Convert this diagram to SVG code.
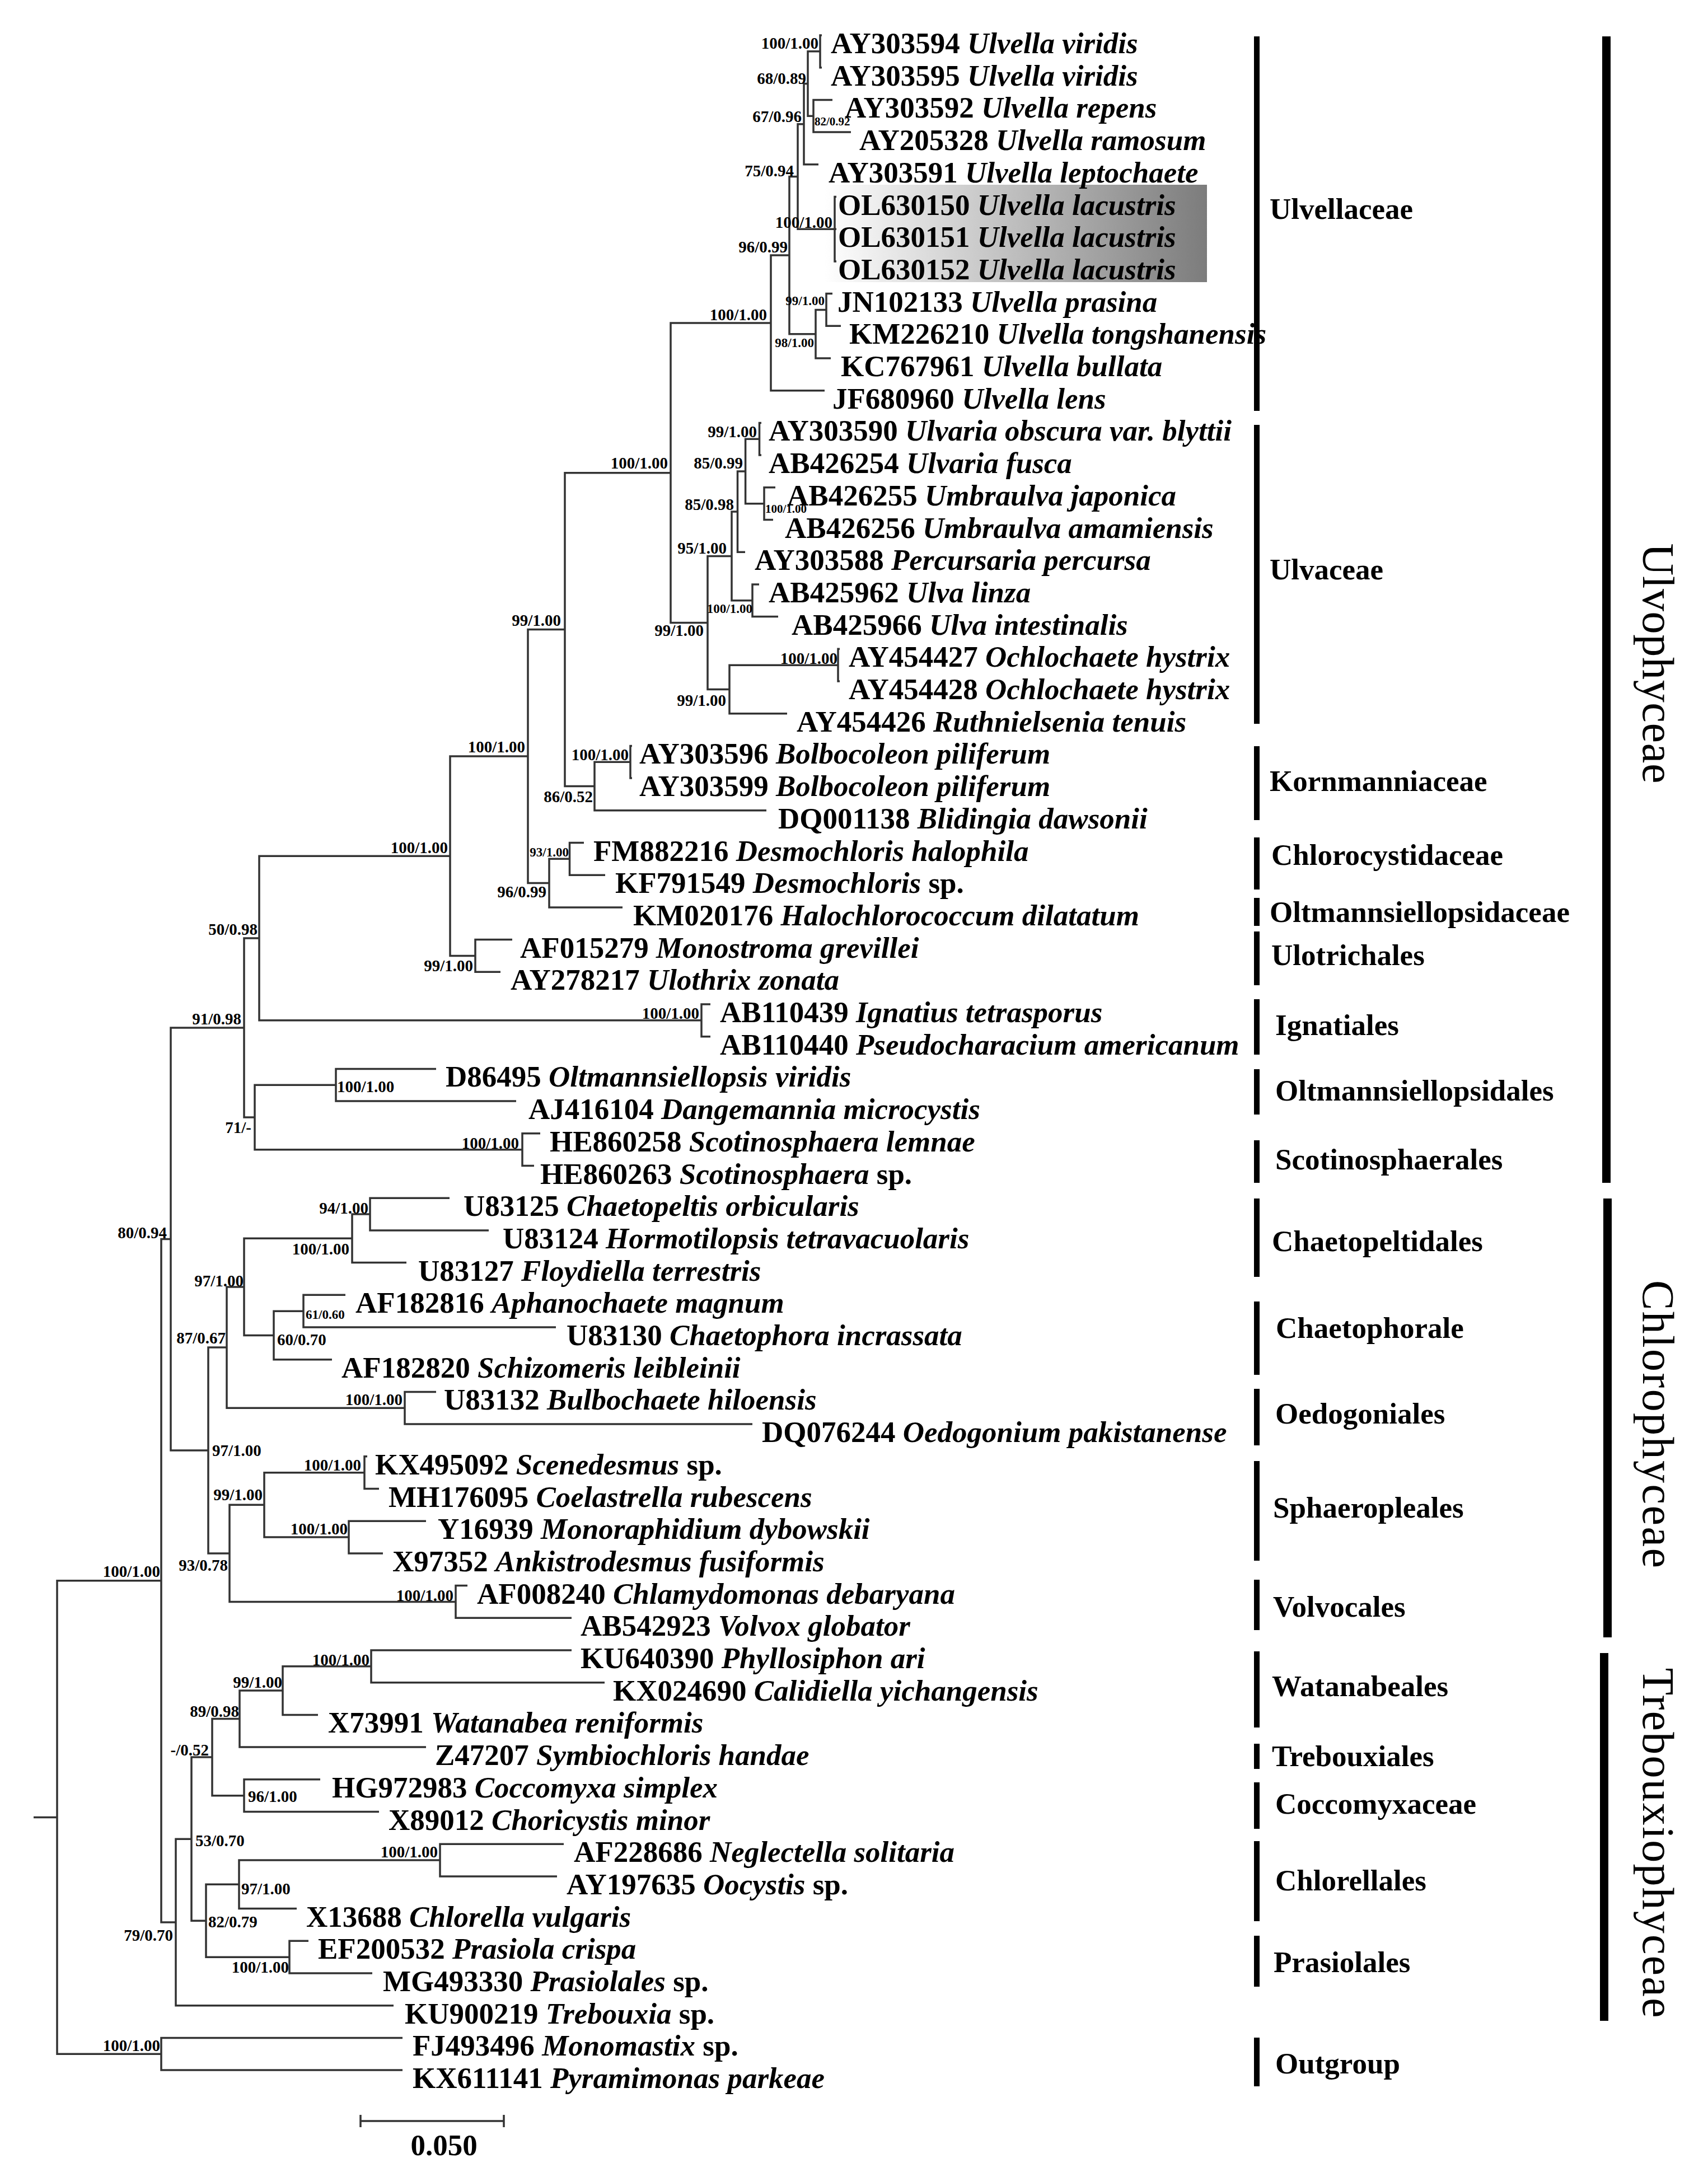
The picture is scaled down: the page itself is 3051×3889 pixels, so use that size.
<svg xmlns="http://www.w3.org/2000/svg" width="3051" height="3889" viewBox="0 0 3051 3889">
<style>
text{font-family:"Liberation Serif","Times New Roman",serif;fill:#000}
.br{fill:none;stroke:#333;stroke-width:3.5;stroke-linejoin:miter;stroke-linecap:butt}
.lf{font-size:53px;font-weight:bold}
.i{font-style:italic}
.bs{font-size:29px;font-weight:bold}
.bss{font-size:23px;font-weight:bold}
.bsx{font-size:21px;font-weight:bold}
.e{text-anchor:end}
.gl{font-size:53px;font-weight:bold}
.cl{font-size:80px;text-anchor:middle}
.bar{fill:#000}
</style>
<defs>
<linearGradient id="hl" x1="0" y1="0" x2="1" y2="0">
<stop offset="0" stop-color="#ffffff"/>
<stop offset="1" stop-color="#7c7c7c"/>
</linearGradient>
</defs>
<rect width="3051" height="3889" fill="#fff"/>
<rect id="highlight" x="1473" y="330" width="683" height="174" fill="url(#hl)"/>

<g id="connectors">
<path class="br" d="M60 3246.5H102M288 2823.7H102V3669.25H288"/>
<path class="br" d="M305 2213.5H288V3433.9H314"/>
<path class="br" d="M436 1836H305V2591H372"/>
<path class="br" d="M463 1676.1H436V1996H455"/>
<path class="br" d="M804 1529.3H463V1822.85H1253"/>
<path class="br" d="M943 1351.1H804V1707.45H849"/>
<path class="br" d="M1009 1124.6H943V1577.6H981"/>
<path class="br" d="M1198 844.65H1009V1404.5H1062"/>
<path class="br" d="M1377 576.9H1198V1112.4H1264"/>
<path class="br" d="M1410 456.1H1377V697.7H1473"/>
<path class="br" d="M1425 315.4H1410V596.7H1457"/>
<path class="br" d="M1436 221.7H1425V409.2H1491"/>
<path class="br" d="M1443 149.55H1436V293.8H1462"/>
<path class="br" d="M1465 91.85H1443V207.25H1453"/>
<path class="br" d="M1468 63H1465V120.7H1468"/>
<path class="br" d="M1487 178.4H1453V236.1H1520"/>
<path class="br" d="M1494 351.5H1491V466.9H1494M1491 409.2H1494"/>
<path class="br" d="M1476 553.45H1457V640H1484"/>
<path class="br" d="M1487 524.6H1476V582.3H1502"/>
<path class="br" d="M1307 993.4H1264V1231.4H1303"/>
<path class="br" d="M1317.5 914.1H1307V1072.75H1344"/>
<path class="br" d="M1331.6 841.95H1317.5V986.2H1331"/>
<path class="br" d="M1356.5 784.25H1331.6V899.65H1365"/>
<path class="br" d="M1360 755.4H1356.5V813.1H1360"/>
<path class="br" d="M1385 870.8H1365V928.5H1381"/>
<path class="br" d="M1356 1043.9H1344V1101.6H1390"/>
<path class="br" d="M1497 1188.15H1303V1274.7H1406"/>
<path class="br" d="M1500 1159.3H1497V1217H1500"/>
<path class="br" d="M1126 1361.25H1062V1447.8H1369"/>
<path class="br" d="M1129 1332.4H1126V1390.1H1129"/>
<path class="br" d="M1017.5 1534.35H981V1620.9H1112"/>
<path class="br" d="M1043 1505.5H1017.5V1563.2H1081"/>
<path class="br" d="M915 1678.6H849V1736.3H894"/>
<path class="br" d="M1269 1794H1253V1851.7H1269"/>
<path class="br" d="M600 1938.25H455V2053.65H933"/>
<path class="br" d="M779 1909.4H600V1967.1H922"/>
<path class="br" d="M965 2024.8H933V2082.5H954"/>
<path class="br" d="M405 2407.06H372V2774.9H410"/>
<path class="br" d="M436 2298.9H405V2515.25H723"/>
<path class="br" d="M629 2212.3H436V2385.4H489"/>
<path class="br" d="M661 2169.05H629V2255.6H726"/>
<path class="br" d="M803 2140.2H661V2197.9H873"/>
<path class="br" d="M542 2342.15H489V2428.7H593"/>
<path class="br" d="M617 2313.3H542V2371H993"/>
<path class="br" d="M779 2486.4H723V2544.1H1344"/>
<path class="br" d="M472 2688.35H410V2861.45H814"/>
<path class="br" d="M651 2630.65H472V2746.05H623"/>
<path class="br" d="M656 2601.8H651V2659.5H677"/>
<path class="br" d="M761 2717.2H623V2774.9H684"/>
<path class="br" d="M835 2832.6H814V2890.3H1021"/>
<path class="br" d="M342 3285.2H314V3582.7H703"/>
<path class="br" d="M379 3139.1H342V3431.2H368"/>
<path class="br" d="M428 3070.6H379V3207.65H436"/>
<path class="br" d="M505 3020.1H428V3121.1H761"/>
<path class="br" d="M663 2976.85H505V3063.4H568"/>
<path class="br" d="M1021 2948H663V3005.7H1080"/>
<path class="br" d="M572 3178.8H436V3236.5H677"/>
<path class="br" d="M427 3366.3H368V3496.15H517"/>
<path class="br" d="M786 3323.05H427V3409.6H530"/>
<path class="br" d="M1007 3294.2H786V3351.9H995"/>
<path class="br" d="M551 3467.3H517V3525H665"/>
<path class="br" d="M719 3640.4H288V3698.1H719"/>
</g>

<g id="leaves">
<g id="leaf-AY303594"><text class="lf" x="1484" y="95">AY303594 <tspan class="i">Ulvella viridis</tspan></text></g>
<g id="leaf-AY303595"><text class="lf" x="1484" y="152.7">AY303595 <tspan class="i">Ulvella viridis</tspan></text></g>
<g id="leaf-AY303592"><text class="lf" x="1509" y="210.4">AY303592 <tspan class="i">Ulvella repens</tspan></text></g>
<g id="leaf-AY205328"><text class="lf" x="1535" y="268.1">AY205328 <tspan class="i">Ulvella ramosum</tspan></text></g>
<g id="leaf-AY303591"><text class="lf" x="1480" y="325.8">AY303591 <tspan class="i">Ulvella leptochaete</tspan></text></g>
<g id="leaf-OL630150"><text class="lf" x="1497" y="383.5">OL630150 <tspan class="i">Ulvella lacustris</tspan></text></g>
<g id="leaf-OL630151"><text class="lf" x="1497" y="441.2">OL630151 <tspan class="i">Ulvella lacustris</tspan></text></g>
<g id="leaf-OL630152"><text class="lf" x="1497" y="498.9">OL630152 <tspan class="i">Ulvella lacustris</tspan></text></g>
<g id="leaf-JN102133"><text class="lf" x="1496" y="556.6">JN102133 <tspan class="i">Ulvella prasina</tspan></text></g>
<g id="leaf-KM226210"><text class="lf" x="1517" y="614.3">KM226210 <tspan class="i">Ulvella tongshanensis</tspan></text></g>
<g id="leaf-KC767961"><text class="lf" x="1502" y="672">KC767961 <tspan class="i">Ulvella bullata</tspan></text></g>
<g id="leaf-JF680960"><text class="lf" x="1487" y="729.7">JF680960 <tspan class="i">Ulvella lens</tspan></text></g>
<g id="leaf-AY303590"><text class="lf" x="1373" y="787.4">AY303590 <tspan class="i">Ulvaria obscura var. blyttii</tspan></text></g>
<g id="leaf-AB426254"><text class="lf" x="1373" y="845.1">AB426254 <tspan class="i">Ulvaria fusca</tspan></text></g>
<g id="leaf-AB426255"><text class="lf" x="1406" y="902.8">AB426255 <tspan class="i">Umbraulva japonica</tspan></text></g>
<g id="leaf-AB426256"><text class="lf" x="1402" y="960.5">AB426256 <tspan class="i">Umbraulva amamiensis</tspan></text></g>
<g id="leaf-AY303588"><text class="lf" x="1348" y="1018.2">AY303588 <tspan class="i">Percursaria percursa</tspan></text></g>
<g id="leaf-AB425962"><text class="lf" x="1373" y="1075.9">AB425962 <tspan class="i">Ulva linza</tspan></text></g>
<g id="leaf-AB425966"><text class="lf" x="1414" y="1133.6">AB425966 <tspan class="i">Ulva intestinalis</tspan></text></g>
<g id="leaf-AY454427"><text class="lf" x="1516" y="1191.3">AY454427 <tspan class="i">Ochlochaete hystrix</tspan></text></g>
<g id="leaf-AY454428"><text class="lf" x="1516" y="1249">AY454428 <tspan class="i">Ochlochaete hystrix</tspan></text></g>
<g id="leaf-AY454426"><text class="lf" x="1423" y="1306.7">AY454426 <tspan class="i">Ruthnielsenia tenuis</tspan></text></g>
<g id="leaf-AY303596"><text class="lf" x="1142" y="1364.4">AY303596 <tspan class="i">Bolbocoleon piliferum</tspan></text></g>
<g id="leaf-AY303599"><text class="lf" x="1142" y="1422.1">AY303599 <tspan class="i">Bolbocoleon piliferum</tspan></text></g>
<g id="leaf-DQ001138"><text class="lf" x="1390" y="1479.8">DQ001138 <tspan class="i">Blidingia dawsonii</tspan></text></g>
<g id="leaf-FM882216"><text class="lf" x="1060" y="1537.5">FM882216 <tspan class="i">Desmochloris halophila</tspan></text></g>
<g id="leaf-KF791549"><text class="lf" x="1099" y="1595.2">KF791549 <tspan class="i">Desmochloris</tspan> sp.</text></g>
<g id="leaf-KM020176"><text class="lf" x="1131" y="1652.9">KM020176 <tspan class="i">Halochlorococcum dilatatum</tspan></text></g>
<g id="leaf-AF015279"><text class="lf" x="929" y="1710.6">AF015279 <tspan class="i">Monostroma grevillei</tspan></text></g>
<g id="leaf-AY278217"><text class="lf" x="912" y="1768.3">AY278217 <tspan class="i">Ulothrix zonata</tspan></text></g>
<g id="leaf-AB110439"><text class="lf" x="1286" y="1826">AB110439 <tspan class="i">Ignatius tetrasporus</tspan></text></g>
<g id="leaf-AB110440"><text class="lf" x="1286" y="1883.7">AB110440 <tspan class="i">Pseudocharacium americanum</tspan></text></g>
<g id="leaf-D86495"><text class="lf" x="796" y="1941.4">D86495 <tspan class="i">Oltmannsiellopsis viridis</tspan></text></g>
<g id="leaf-AJ416104"><text class="lf" x="944" y="1999.1">AJ416104 <tspan class="i">Dangemannia microcystis</tspan></text></g>
<g id="leaf-HE860258"><text class="lf" x="982" y="2056.8">HE860258 <tspan class="i">Scotinosphaera lemnae</tspan></text></g>
<g id="leaf-HE860263"><text class="lf" x="965" y="2114.5">HE860263 <tspan class="i">Scotinosphaera</tspan> sp.</text></g>
<g id="leaf-U83125"><text class="lf" x="828" y="2172.2">U83125 <tspan class="i">Chaetopeltis orbicularis</tspan></text></g>
<g id="leaf-U83124"><text class="lf" x="898" y="2229.9">U83124 <tspan class="i">Hormotilopsis tetravacuolaris</tspan></text></g>
<g id="leaf-U83127"><text class="lf" x="747" y="2287.6">U83127 <tspan class="i">Floydiella terrestris</tspan></text></g>
<g id="leaf-AF182816"><text class="lf" x="635" y="2345.3">AF182816 <tspan class="i">Aphanochaete magnum</tspan></text></g>
<g id="leaf-U83130"><text class="lf" x="1012" y="2403">U83130 <tspan class="i">Chaetophora incrassata</tspan></text></g>
<g id="leaf-AF182820"><text class="lf" x="610" y="2460.7">AF182820 <tspan class="i">Schizomeris leibleinii</tspan></text></g>
<g id="leaf-U83132"><text class="lf" x="793" y="2518.4">U83132 <tspan class="i">Bulbochaete hiloensis</tspan></text></g>
<g id="leaf-DQ076244"><text class="lf" x="1361" y="2576.1">DQ076244 <tspan class="i">Oedogonium pakistanense</tspan></text></g>
<g id="leaf-KX495092"><text class="lf" x="670" y="2633.8">KX495092 <tspan class="i">Scenedesmus</tspan> sp.</text></g>
<g id="leaf-MH176095"><text class="lf" x="694" y="2691.5">MH176095 <tspan class="i">Coelastrella rubescens</tspan></text></g>
<g id="leaf-Y16939"><text class="lf" x="782" y="2749.2">Y16939 <tspan class="i">Monoraphidium dybowskii</tspan></text></g>
<g id="leaf-X97352"><text class="lf" x="701" y="2806.9">X97352 <tspan class="i">Ankistrodesmus fusiformis</tspan></text></g>
<g id="leaf-AF008240"><text class="lf" x="852" y="2864.6">AF008240 <tspan class="i">Chlamydomonas debaryana</tspan></text></g>
<g id="leaf-AB542923"><text class="lf" x="1037" y="2922.3">AB542923 <tspan class="i">Volvox globator</tspan></text></g>
<g id="leaf-KU640390"><text class="lf" x="1037" y="2980">KU640390 <tspan class="i">Phyllosiphon ari</tspan></text></g>
<g id="leaf-KX024690"><text class="lf" x="1095" y="3037.7">KX024690 <tspan class="i">Calidiella yichangensis</tspan></text></g>
<g id="leaf-X73991"><text class="lf" x="586" y="3095.4">X73991 <tspan class="i">Watanabea reniformis</tspan></text></g>
<g id="leaf-Z47207"><text class="lf" x="777" y="3153.1">Z47207 <tspan class="i">Symbiochloris handae</tspan></text></g>
<g id="leaf-HG972983"><text class="lf" x="593" y="3210.8">HG972983 <tspan class="i">Coccomyxa simplex</tspan></text></g>
<g id="leaf-X89012"><text class="lf" x="694" y="3268.5">X89012 <tspan class="i">Choricystis minor</tspan></text></g>
<g id="leaf-AF228686"><text class="lf" x="1025" y="3326.2">AF228686 <tspan class="i">Neglectella solitaria</tspan></text></g>
<g id="leaf-AY197635"><text class="lf" x="1012" y="3383.9">AY197635 <tspan class="i">Oocystis</tspan> sp.</text></g>
<g id="leaf-X13688"><text class="lf" x="547" y="3441.6">X13688 <tspan class="i">Chlorella vulgaris</tspan></text></g>
<g id="leaf-EF200532"><text class="lf" x="568" y="3499.3">EF200532 <tspan class="i">Prasiola crispa</tspan></text></g>
<g id="leaf-MG493330"><text class="lf" x="684" y="3557">MG493330 <tspan class="i">Prasiolales</tspan> sp.</text></g>
<g id="leaf-KU900219"><text class="lf" x="723" y="3614.7">KU900219 <tspan class="i">Trebouxia</tspan> sp.</text></g>
<g id="leaf-FJ493496"><text class="lf" x="737" y="3672.4">FJ493496 <tspan class="i">Monomastix</tspan> sp.</text></g>
<g id="leaf-KX611141"><text class="lf" x="737" y="3730.1">KX611141 <tspan class="i">Pyramimonas parkeae</tspan></text></g>
</g>

<g id="support">
<g id="node-A"><text class="bs e" x="1462" y="87">100/1.00</text></g>
<g id="node-B"><text class="bs e" x="1440" y="150">68/0.89</text></g>
<g id="node-C"><text class="bsx" x="1455" y="224">82/0.92</text></g>
<g id="node-D"><text class="bs e" x="1432" y="218">67/0.96</text></g>
<g id="node-E"><text class="bs e" x="1418" y="315">75/0.94</text></g>
<g id="node-F"><text class="bs e" x="1487" y="407">100/1.00</text></g>
<g id="node-G"><text class="bs e" x="1407" y="451">96/0.99</text></g>
<g id="node-I"><text class="bss e" x="1473" y="545">99/1.00</text></g>
<g id="node-H"><text class="bss e" x="1454" y="620">98/1.00</text></g>
<g id="node-J"><text class="bs e" x="1370" y="572">100/1.00</text></g>
<g id="node-K"><text class="bs e" x="1193" y="837">100/1.00</text></g>
<g id="node-BH"><text class="bs e" x="1352" y="781">99/1.00</text></g>
<g id="node-BG"><text class="bs e" x="1327" y="837">85/0.99</text></g>
<g id="node-BI"><text class="bsx" x="1367" y="916">100/1.00</text></g>
<g id="node-BE"><text class="bs e" x="1311" y="911">85/0.98</text></g>
<g id="node-BB"><text class="bs e" x="1298" y="989">95/1.00</text></g>
<g id="node-BF"><text class="bss e" x="1344" y="1095">100/1.00</text></g>
<g id="node-BA"><text class="bs e" x="1257" y="1136">99/1.00</text></g>
<g id="node-BD"><text class="bs e" x="1496" y="1186">100/1.00</text></g>
<g id="node-BC"><text class="bs e" x="1297" y="1261">99/1.00</text></g>
<g id="node-L"><text class="bs e" x="1002" y="1118">99/1.00</text></g>
<g id="node-N"><text class="bs e" x="1123" y="1358">100/1.00</text></g>
<g id="node-M"><text class="bs e" x="1059" y="1433">86/0.52</text></g>
<g id="node-O"><text class="bs e" x="938" y="1344">100/1.00</text></g>
<g id="node-Q"><text class="bss e" x="1016" y="1530">93/1.00</text></g>
<g id="node-P"><text class="bs e" x="976" y="1603">96/0.99</text></g>
<g id="node-R"><text class="bs e" x="800" y="1524">100/1.00</text></g>
<g id="node-S"><text class="bs e" x="845" y="1735">99/1.00</text></g>
<g id="node-T"><text class="bs e" x="460" y="1670">50/0.98</text></g>
<g id="node-U"><text class="bs e" x="1249" y="1820">100/1.00</text></g>
<g id="node-V"><text class="bs e" x="431" y="1830">91/0.98</text></g>
<g id="node-W"><text class="bs e" x="449" y="2024">71/-</text></g>
<g id="node-Y"><text class="bs" x="602" y="1951">100/1.00</text></g>
<g id="node-Z"><text class="bs e" x="927" y="2052">100/1.00</text></g>
<g id="node-X"><text class="bs e" x="298" y="2212">80/0.94</text></g>
<g id="node-AG"><text class="bs e" x="658" y="2168">94/1.00</text></g>
<g id="node-AF"><text class="bs e" x="624" y="2241">100/1.00</text></g>
<g id="node-AD"><text class="bs e" x="435" y="2298">97/1.00</text></g>
<g id="node-AI"><text class="bss" x="546" y="2356">61/0.60</text></g>
<g id="node-AH"><text class="bs" x="495" y="2403">60/0.70</text></g>
<g id="node-AB"><text class="bs e" x="403" y="2400">87/0.67</text></g>
<g id="node-AE"><text class="bs e" x="719" y="2510">100/1.00</text></g>
<g id="node-AA"><text class="bs" x="379" y="2601">97/1.00</text></g>
<g id="node-AL"><text class="bs e" x="645" y="2627">100/1.00</text></g>
<g id="node-AJ"><text class="bs e" x="469" y="2680">99/1.00</text></g>
<g id="node-AM"><text class="bs e" x="621" y="2741">100/1.00</text></g>
<g id="node-AC"><text class="bs e" x="407" y="2806">93/0.78</text></g>
<g id="node-IG"><text class="bs e" x="286" y="2817">100/1.00</text></g>
<g id="node-AK"><text class="bs e" x="810" y="2860">100/1.00</text></g>
<g id="node-AX"><text class="bs e" x="660" y="2975">100/1.00</text></g>
<g id="node-AW"><text class="bs e" x="504" y="3015">99/1.00</text></g>
<g id="node-AU"><text class="bs e" x="427" y="3067">89/0.98</text></g>
<g id="node-AQ"><text class="bs e" x="373" y="3136">-/0.52</text></g>
<g id="node-AV"><text class="bs" x="443" y="3219">96/1.00</text></g>
<g id="node-AO"><text class="bs" x="349" y="3298">53/0.70</text></g>
<g id="node-AT"><text class="bs e" x="782" y="3318">100/1.00</text></g>
<g id="node-AR"><text class="bs" x="431" y="3384">97/1.00</text></g>
<g id="node-AP"><text class="bs" x="372" y="3443">82/0.79</text></g>
<g id="node-AN"><text class="bs e" x="309" y="3467">79/0.70</text></g>
<g id="node-AS"><text class="bs e" x="516" y="3524">100/1.00</text></g>
<g id="node-OG"><text class="bs e" x="286" y="3664">100/1.00</text></g>
</g>

<g id="groups">
<g id="grp-Ulvellaceae"><rect class="bar" x="2240" y="65" width="10" height="669"/><text class="gl" x="2268" y="391">Ulvellaceae</text></g>
<g id="grp-Ulvaceae"><rect class="bar" x="2240" y="759" width="10" height="534"/><text class="gl" x="2268" y="1035">Ulvaceae</text></g>
<g id="grp-Kornmanniaceae"><rect class="bar" x="2240" y="1333" width="10" height="132"/><text class="gl" x="2268" y="1413">Kornmanniaceae</text></g>
<g id="grp-Chlorocystidaceae"><rect class="bar" x="2240" y="1496" width="10" height="93"/><text class="gl" x="2271" y="1545">Chlorocystidaceae</text></g>
<g id="grp-Oltmannsiellopsidaceae"><rect class="bar" x="2240" y="1604" width="10" height="50"/><text class="gl" x="2268" y="1647">Oltmannsiellopsidaceae</text></g>
<g id="grp-Ulotrichales"><rect class="bar" x="2240" y="1664" width="10" height="96"/><text class="gl" x="2271" y="1724">Ulotrichales</text></g>
<g id="grp-Ignatiales"><rect class="bar" x="2240" y="1785" width="10" height="99"/><text class="gl" x="2278" y="1849">Ignatiales</text></g>
<g id="grp-Oltmannsiellopsidales"><rect class="bar" x="2240" y="1910" width="10" height="81"/><text class="gl" x="2278" y="1966">Oltmannsiellopsidales</text></g>
<g id="grp-Scotinosphaerales"><rect class="bar" x="2240" y="2037" width="10" height="76"/><text class="gl" x="2278" y="2089">Scotinosphaerales</text></g>
<g id="grp-Chaetopeltidales"><rect class="bar" x="2240" y="2141" width="10" height="140"/><text class="gl" x="2272" y="2235">Chaetopeltidales</text></g>
<g id="grp-Chaetophorale"><rect class="bar" x="2240" y="2325" width="10" height="131"/><text class="gl" x="2279" y="2390">Chaetophorale</text></g>
<g id="grp-Oedogoniales"><rect class="bar" x="2240" y="2481" width="10" height="101"/><text class="gl" x="2278" y="2543">Oedogoniales</text></g>
<g id="grp-Sphaeropleales"><rect class="bar" x="2240" y="2610" width="10" height="178"/><text class="gl" x="2274" y="2711">Sphaeropleales</text></g>
<g id="grp-Volvocales"><rect class="bar" x="2240" y="2822" width="10" height="90"/><text class="gl" x="2274" y="2888">Volvocales</text></g>
<g id="grp-Watanabeales"><rect class="bar" x="2240" y="2950" width="10" height="136"/><text class="gl" x="2272" y="3030">Watanabeales</text></g>
<g id="grp-Trebouxiales"><rect class="bar" x="2240" y="3115" width="10" height="45"/><text class="gl" x="2272" y="3155">Trebouxiales</text></g>
<g id="grp-Coccomyxaceae"><rect class="bar" x="2240" y="3184" width="10" height="83"/><text class="gl" x="2278" y="3240">Coccomyxaceae</text></g>
<g id="grp-Chlorellales"><rect class="bar" x="2240" y="3289" width="10" height="143"/><text class="gl" x="2278" y="3377">Chlorellales</text></g>
<g id="grp-Prasiolales"><rect class="bar" x="2240" y="3458" width="10" height="91"/><text class="gl" x="2275" y="3523">Prasiolales</text></g>
<g id="grp-Outgroup"><rect class="bar" x="2240" y="3640" width="10" height="87"/><text class="gl" x="2278" y="3704">Outgroup</text></g>
</g>

<g id="classes">
<g id="cls-Ulvophyceae"><rect class="bar" x="2862" y="65" width="15" height="2048"/><text class="cl" transform="translate(2935 1185) rotate(90)" textLength="429">Ulvophyceae</text></g>
<g id="cls-Chlorophyceae"><rect class="bar" x="2864" y="2141" width="15" height="784"/><text class="cl" transform="translate(2935 2544) rotate(90)" textLength="514">Chlorophyceae</text></g>
<g id="cls-Trebouxiophyceae"><rect class="bar" x="2858" y="2953" width="15" height="657"/><text class="cl" transform="translate(2935 3292) rotate(90)" textLength="625">Trebouxiophyceae</text></g>
</g>

<g id="scalebar">
<path class="br" d="M644 3789H900M644 3778V3800M900 3778V3800"/>
<text class="lf" x="793" y="3850" text-anchor="middle">0.050</text>
</g>
</svg>
